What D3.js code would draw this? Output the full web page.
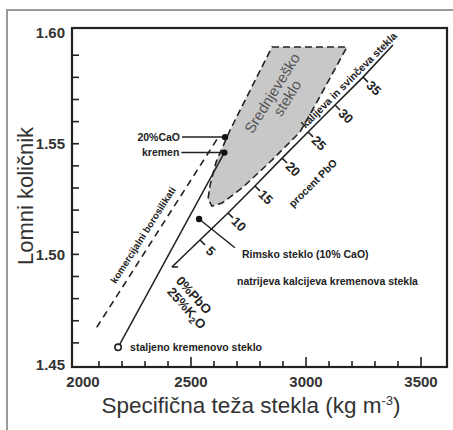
<!DOCTYPE html>
<html>

<head>
  <title>Lomni kolicnik</title>
  <script src="https://cdn.jsdelivr.net/npm/d3@7"></script>
  <style>
    body { margin: 0; background: #fff; }
    text { font-family: "Liberation Sans", Arial, sans-serif; }
  </style>
</head>

<body>
  <svg width="453" height="430" id="mainsvg"></svg>
  <script>
    // axis ticks
    const xTicks = [2100, 2200, 2300, 2400, 2500, 2600, 2700, 2800, 2900, 3000, 3100, 3200, 3300, 3400, 3500];
    const xMajor = [2500, 3000, 3500];
    const xLabels = [2000, 2500, 3000, 3500];
    const yTicks = [1.46, 1.47, 1.48, 1.49, 1.50, 1.51, 1.52, 1.53, 1.54, 1.55, 1.56, 1.57, 1.58, 1.59];
    const yLabels = [1.45, 1.50, 1.55, 1.60];

    // single glasses [density, index]
    const fusedSilica = [2183, 1.458];
    const quartz = [2645, 1.546];
    const cao20 = [2648, 1.553];
    const romanGlass = [2535, 1.516];
    const romanLeaderEnd = [2691, 1.503];

    // borosilicate band (dashed)
    const boroDensity = [2090, 2613];
    const boroIndex = [1.467, 1.552];

    // potassium lead glasses
    const pboPct = [0, 5, 10, 15, 20, 25, 30, 35];
    const pboDensity = [2417, 2539, 2661, 2778, 2896, 3009, 3126, 3248];
    const pboIndex = [1.4943, 1.5065, 1.5187, 1.5309, 1.5435, 1.5553, 1.5675, 1.5801];
    const leadEnd = [3378, 1.5946];

    // medieval glass region outline
    const medDensity = [2852, 3178, 3052, 2974, 2852, 2722, 2635, 2591, 2574, 2583, 2609, 2670];
    const medIndex = [1.5937, 1.5937, 1.5697, 1.5553, 1.5426, 1.5300, 1.5232, 1.5218, 1.5250, 1.5313, 1.5417, 1.5562];

    const svg = d3.select('#mainsvg');
    const x = d3.scaleLinear().domain([1982.6, 3613]).range([72, 447]);
    const y = d3.scaleLinear().domain([1.4491, 1.6023]).range([367, 28]);
    const ink = '#222';

    // outer grey frame
    svg.append('rect').attr('x', 7).attr('y', 10).attr('width', 470).attr('height', 440)
      .attr('fill', 'none').attr('stroke', '#9a9a9a').attr('stroke-width', 2);

    // medieval region
    const medPts = medDensity.map((d, i) => [x(d), y(medIndex[i])]);
    svg.append('path').attr('d', d3.line().curve(d3.curveLinearClosed)(medPts))
      .attr('fill', '#c8c8c8').attr('stroke', ink).attr('stroke-width', 1.6)
      .attr('stroke-dasharray', '7,4');

    // plot frame
    svg.append('rect').attr('x', x.range()[0]).attr('y', y.range()[1])
      .attr('width', x.range()[1] - x.range()[0]).attr('height', y.range()[0] - y.range()[1])
      .attr('fill', 'none').attr('stroke', ink).attr('stroke-width', 2.2);

    // ticks
    svg.selectAll('.xt').data(xTicks).join('line').attr('class', 'xt')
      .attr('x1', d => x(d)).attr('x2', d => x(d))
      .attr('y1', y.range()[0]).attr('y2', d => y.range()[0] - (xMajor.includes(d) ? 10 : 6))
      .attr('stroke', ink).attr('stroke-width', 1.6);
    svg.selectAll('.yt').data(yTicks).join('line').attr('class', 'yt')
      .attr('y1', d => y(d)).attr('y2', d => y(d))
      .attr('x1', x.range()[0]).attr('x2', x.range()[0] + 7)
      .attr('stroke', ink).attr('stroke-width', 1.6);

    svg.selectAll('.xl').data(xLabels).join('text').attr('class', 'xl')
      .attr('x', d => x(d) + (d === 2000 ? 7 : 0)).attr('y', 387)
      .attr('text-anchor', 'middle').attr('font-size', 15).attr('font-weight', 'bold')
      .attr('fill', '#333').text(d => d);
    svg.selectAll('.yl').data(yLabels).join('text').attr('class', 'yl')
      .attr('x', 65).attr('y', d => y(d)).attr('dy', '0.36em')
      .attr('text-anchor', 'end').attr('font-size', 15).attr('font-weight', 'bold')
      .attr('fill', '#333').text(d => d.toFixed(2));

    // axis titles
    const xt = svg.append('text').attr('x', 251).attr('y', 413).attr('text-anchor', 'middle')
      .attr('font-size', 22.5).attr('fill', '#333');
    xt.append('tspan').text('Specifična teža stekla (kg m');
    xt.append('tspan').attr('font-size', 13).attr('dy', -8).text('-3');
    xt.append('tspan').attr('dy', 8).text(')');
    svg.append('text').attr('transform', 'translate(33,196) rotate(-90)')
      .attr('text-anchor', 'middle').attr('font-size', 22).attr('fill', '#333')
      .text('Lomni količnik');

    // borosilicate dashed line
    svg.append('line')
      .attr('x1', x(boroDensity[0])).attr('y1', y(boroIndex[0]))
      .attr('x2', x(boroDensity[1])).attr('y2', y(boroIndex[1]))
      .attr('stroke', ink).attr('stroke-width', 1.6).attr('stroke-dasharray', '7,5');

    // fused silica -> quartz
    svg.append('line')
      .attr('x1', x(fusedSilica[0])).attr('y1', y(fusedSilica[1]))
      .attr('x2', x(quartz[0])).attr('y2', y(quartz[1]))
      .attr('stroke', ink).attr('stroke-width', 1.5);

    // lead glass line
    const leadPts = pboDensity.map((d, i) => [x(d), y(pboIndex[i])]);
    leadPts.push([x(leadEnd[0]), y(leadEnd[1])]);
    svg.append('path').attr('d', d3.line()(leadPts))
      .attr('fill', 'none').attr('stroke', ink).attr('stroke-width', 1.6);

    const p0 = leadPts[0], pN = leadPts[leadPts.length - 1];
    const len = Math.hypot(pN[0] - p0[0], pN[1] - p0[1]);
    const ux = (pN[0] - p0[0]) / len, uy = (pN[1] - p0[1]) / len;
    const nx = -uy, ny = ux;

    // foot at 0%
    svg.append('line').attr('x1', p0[0]).attr('y1', p0[1]).attr('x2', p0[0] + 6).attr('y2', p0[1])
      .attr('stroke', ink).attr('stroke-width', 1.6);

    const tk = pboPct.slice(1).map((p, i) => ({ p: p, px: leadPts[i + 1][0], py: leadPts[i + 1][1] }));
    svg.selectAll('.lt').data(tk).join('line').attr('class', 'lt')
      .attr('x1', d => d.px).attr('y1', d => d.py)
      .attr('x2', d => d.px + nx * 7).attr('y2', d => d.py + ny * 7)
      .attr('stroke', ink).attr('stroke-width', 1.6);
    svg.selectAll('.ll').data(tk).join('text').attr('class', 'll')
      .attr('transform', d => `translate(${d.px + nx * 15.5},${d.py + ny * 15.5}) rotate(45)`)
      .attr('text-anchor', 'middle').attr('dy', '0.36em')
      .attr('font-size', 13).attr('font-weight', 'bold').attr('fill', ink)
      .text(d => d.p);

    svg.append('text').attr('transform', `translate(${p0[0] + 22},${p0[1] + 28}) rotate(48)`)
      .attr('text-anchor', 'middle').attr('dy', '0.36em')
      .attr('font-size', 13).attr('font-weight', 'bold').attr('fill', ink).text('0%PbO');
    const k2o = svg.append('text').attr('transform', `translate(${p0[0] + 15},${p0[1] + 41}) rotate(48)`)
      .attr('text-anchor', 'middle').attr('dy', '0.36em')
      .attr('font-size', 13).attr('font-weight', 'bold').attr('fill', ink);
    k2o.append('tspan').text('25%K');
    k2o.append('tspan').attr('font-size', 9).attr('dy', 3).text('2');
    k2o.append('tspan').attr('dy', -3).text('O');

    // text along lead line
    svg.append('text').attr('transform', `translate(${p0[0] + 177},${p0[1] - 187}) rotate(-45)`)
      .attr('text-anchor', 'middle').attr('dy', '0.36em')
      .attr('font-size', 10.5).attr('font-weight', 'bold').attr('fill', ink)
      .text('kalijeva in svinčeva stekla');
    svg.append('text').attr('transform', `translate(${p0[0] + 141},${p0[1] - 84}) rotate(-45)`)
      .attr('text-anchor', 'middle').attr('dy', '0.36em')
      .attr('font-size', 10.5).attr('font-weight', 'bold').attr('fill', ink)
      .text('procent PbO');

    // borosilicate label
    svg.append('text').attr('transform', 'translate(143,235) rotate(-57.5)')
      .attr('text-anchor', 'middle').attr('dy', '0.36em')
      .attr('font-size', 9.8).attr('font-weight', 'bold').attr('fill', ink)
      .text('komercijalni borosilikati');

    // medieval label
    svg.append('text').attr('transform', 'translate(272,93) rotate(-58)')
      .attr('text-anchor', 'middle').attr('dy', '0.36em')
      .attr('font-size', 15).attr('fill', '#555').text('Srednjeveško');
    svg.append('text').attr('transform', 'translate(287,98) rotate(-58)')
      .attr('text-anchor', 'middle').attr('dy', '0.36em')
      .attr('font-size', 15).attr('fill', '#555').text('steklo');

    // Roman glass leader
    svg.append('line')
      .attr('x1', x(romanGlass[0])).attr('y1', y(romanGlass[1]))
      .attr('x2', x(romanLeaderEnd[0])).attr('y2', y(romanLeaderEnd[1]))
      .attr('stroke', ink).attr('stroke-width', 1.5);

    // quartz and 20% CaO leaders
    [[cao20, '20%CaO'], [quartz, 'kremen']].forEach(([p, lab]) => {
      svg.append('line').attr('x1', x(p[0]) - 43).attr('x2', x(p[0]))
        .attr('y1', y(p[1])).attr('y2', y(p[1]))
        .attr('stroke', ink).attr('stroke-width', 1.5);
      svg.append('text').attr('x', x(p[0]) - 45).attr('y', y(p[1])).attr('dy', '0.36em')
        .attr('text-anchor', 'end').attr('font-size', 10.5).attr('font-weight', 'bold')
        .attr('fill', ink).text(lab);
    });

    // points
    svg.selectAll('.pt').data([cao20, quartz, romanGlass]).join('circle').attr('class', 'pt')
      .attr('cx', d => x(d[0])).attr('cy', d => y(d[1])).attr('r', 3.2).attr('fill', '#111');
    svg.append('circle').attr('cx', x(fusedSilica[0])).attr('cy', y(fusedSilica[1])).attr('r', 3.2)
      .attr('fill', '#fff').attr('stroke', ink).attr('stroke-width', 1.6);

    // plain annotations
    svg.append('text').attr('x', x(fusedSilica[0]) + 12).attr('y', y(fusedSilica[1])).attr('dy', '0.36em')
      .attr('font-size', 10.5).attr('font-weight', 'bold').attr('fill', ink)
      .text('staljeno kremenovo steklo');
    svg.append('text').attr('x', x(romanLeaderEnd[0]) + 7).attr('y', y(romanLeaderEnd[1]) + 6).attr('dy', '0.36em')
      .attr('font-size', 10.5).attr('font-weight', 'bold').attr('fill', ink)
      .text('Rimsko steklo (10% CaO)');
    svg.append('text').attr('x', 237).attr('y', 281).attr('dy', '0.36em')
      .attr('font-size', 10.5).attr('font-weight', 'bold').attr('fill', ink)
      .text('natrijeva kalcijeva kremenova stekla');
  </script>
</body>

</html>
